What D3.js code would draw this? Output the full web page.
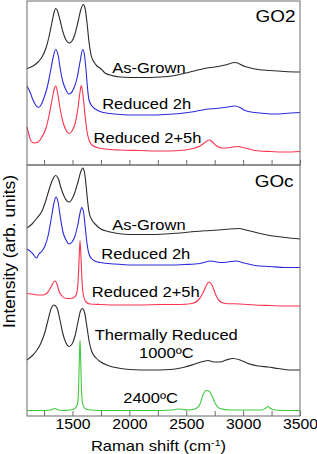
<!DOCTYPE html>
<html>
<head>
<meta charset="utf-8">
<script src="https://cdn.jsdelivr.net/npm/d3@7"></script>
<style>
  body { margin: 0; background: #fff; }
  text { font-family: "Liberation Sans", Arial, sans-serif; fill: #000; }
</style>
</head>
<body>
<div id="chart"></div>
<script>
// Raman spectra, [wavenumber (cm-1), intensity (arb. units)]
var go2AsGrown = [[1100,9.65],[1153,9.9],[1197,10.3],[1232,10.8],[1267,11.7],[1293,12.8],[1320,14.3],[1337,15.2],[1352,15.65],[1368,15.4],[1390,14.5],[1416,13.3],[1443,12.5],[1472,12.2],[1496,12.4],[1522,13.1],[1548,14.3],[1575,15.6],[1595,16.05],[1610,15.7],[1627,14.3],[1645,12.3],[1663,11.0],[1689,10.3],[1715,9.9],[1742,9.7],[1786,9.2],[1830,9.0],[1918,8.8],[2093,8.75],[2269,8.8],[2401,8.95],[2533,9.3],[2621,9.55],[2682,9.7],[2753,9.8],[2841,10.0],[2929,10.25],[3016,9.85],[3104,9.6],[3236,9.45],[3368,9.35],[3500,9.3]];
var go2Red2h = [[1100,7.9],[1126,7.3],[1153,6.5],[1179,5.95],[1201,5.75],[1223,6.0],[1249,6.7],[1276,7.7],[1302,9.1],[1329,10.7],[1352,11.55],[1373,11.0],[1394,9.5],[1416,8.3],[1443,7.5],[1465,7.1],[1487,7.2],[1513,7.7],[1540,8.7],[1566,10.3],[1590,11.55],[1605,11.0],[1619,9.5],[1632,7.7],[1645,6.5],[1671,5.9],[1707,5.55],[1742,5.35],[1830,5.15],[1918,5.05],[2049,5.0],[2181,5.0],[2313,5.05],[2445,5.15],[2577,5.35],[2665,5.55],[2753,5.65],[2841,5.75],[2929,5.9],[2973,5.75],[3016,5.45],[3104,5.25],[3192,5.15],[3280,5.1],[3368,5.15],[3500,5.25]];
var go2Red25h = [[1100,3.8],[1118,3.0],[1135,2.4],[1162,2.2],[1197,2.3],[1232,2.8],[1267,3.7],[1293,4.9],[1320,6.5],[1342,7.7],[1352,7.9],[1368,7.3],[1390,5.7],[1416,4.3],[1443,3.5],[1469,3.15],[1496,3.4],[1522,4.1],[1548,5.7],[1566,7.3],[1577,7.95],[1592,7.0],[1610,5.0],[1627,3.4],[1645,2.5],[1671,2.0],[1715,1.75],[1786,1.6],[1918,1.5],[2093,1.45],[2269,1.4],[2445,1.45],[2559,1.65],[2621,1.9],[2665,2.25],[2700,2.5],[2726,2.35],[2762,1.95],[2814,1.7],[2885,1.75],[2946,1.85],[3016,1.7],[3104,1.45],[3236,1.35],[3368,1.3],[3500,1.35]];

var gocAsGrown = [[1100,18.8],[1144,19.2],[1188,19.8],[1232,20.5],[1267,21.6],[1293,22.6],[1320,23.5],[1337,23.9],[1352,24.05],[1373,23.8],[1399,22.8],[1425,22.0],[1452,21.5],[1472,21.4],[1496,21.7],[1522,22.4],[1548,23.4],[1575,24.5],[1590,24.8],[1605,24.4],[1619,23.1],[1632,21.6],[1645,20.4],[1671,19.6],[1707,19.1],[1742,18.75],[1812,18.45],[1900,18.25],[2005,18.15],[2181,18.15],[2313,18.2],[2445,18.3],[2577,18.45],[2709,18.55],[2841,18.65],[2955,18.75],[3043,18.55],[3131,18.3],[3236,18.05],[3368,17.85],[3500,17.7]];
var gocRed2h = [[1100,16.7],[1126,16.5],[1153,16.2],[1184,15.8],[1205,16.2],[1232,16.5],[1258,17.0],[1285,18.0],[1311,19.6],[1337,21.3],[1355,21.9],[1373,21.4],[1394,19.8],[1416,18.4],[1443,17.6],[1469,17.2],[1496,17.4],[1522,18.0],[1548,19.2],[1570,20.5],[1581,20.85],[1597,20.4],[1610,19.1],[1627,17.3],[1645,16.2],[1671,15.7],[1707,15.45],[1742,15.35],[1874,15.2],[2005,15.1],[2181,15.1],[2357,15.1],[2489,15.15],[2621,15.25],[2718,15.5],[2797,15.35],[2867,15.4],[2937,15.5],[3008,15.3],[3104,15.05],[3236,14.95],[3368,14.85],[3500,14.85]];
var gocRed25h = [[1100,12.25],[1144,12.2],[1197,12.1],[1241,12.1],[1276,12.3],[1302,12.7],[1324,13.2],[1346,13.5],[1364,13.2],[1381,12.5],[1408,12.0],[1443,11.75],[1478,11.75],[1513,11.85],[1535,12.2],[1548,13.3],[1557,15.4],[1566,17.55],[1575,15.8],[1584,13.4],[1597,12.0],[1619,11.4],[1654,11.2],[1742,11.15],[1918,11.1],[2093,11.1],[2269,11.15],[2445,11.15],[2551,11.25],[2603,11.55],[2647,12.3],[2674,13.0],[2700,13.4],[2726,13.1],[2753,12.3],[2788,11.55],[2841,11.25],[2973,11.2],[3104,11.1],[3236,11.05],[3368,11.0],[3500,11.0]];
var gocThermal1000 = [[1100,5.6],[1144,6.0],[1188,6.6],[1223,7.3],[1258,8.4],[1285,9.6],[1311,10.7],[1337,11.1],[1364,10.8],[1390,9.6],[1416,8.2],[1443,7.3],[1469,6.95],[1496,7.2],[1522,8.0],[1548,9.4],[1570,10.5],[1586,10.75],[1605,10.4],[1627,8.9],[1649,7.3],[1671,6.4],[1707,5.8],[1742,5.45],[1812,5.05],[1900,4.8],[2005,4.65],[2181,4.6],[2357,4.65],[2489,4.9],[2577,5.2],[2647,5.45],[2691,5.55],[2744,5.4],[2797,5.4],[2850,5.6],[2911,5.75],[2973,5.6],[3043,5.25],[3131,5.0],[3219,4.9],[3307,4.75],[3412,4.6],[3500,4.6]];
var gocThermal2400 = [[1100,0.55],[1214,0.55],[1302,0.6],[1329,0.7],[1346,0.75],[1364,0.65],[1408,0.55],[1478,0.6],[1522,0.75],[1544,1.2],[1553,2.6],[1560,5.6],[1566,7.6],[1572,5.6],[1579,2.6],[1588,1.3],[1610,0.75],[1654,0.6],[1830,0.55],[2181,0.55],[2375,0.6],[2427,0.7],[2463,0.67],[2515,0.6],[2577,0.7],[2621,1.2],[2647,2.1],[2674,2.55],[2700,2.5],[2726,2.0],[2753,1.3],[2797,0.75],[2885,0.6],[3060,0.6],[3166,0.6],[3201,0.8],[3221,0.95],[3241,0.75],[3280,0.6],[3412,0.55],[3500,0.55]];

var xTicks = [1250, 1500, 1750, 2000, 2250, 2500, 2750, 3000, 3250, 3500];

var width = 317, height = 454;
var left = 27, right = 300;
var stretch = 1.18;   // the figure's lettering is wider than Arial

var color = {
    black: '#2b2b2b',
    blue: '#2b2bdd',
    red: '#ff3350',
    green: '#40c840',
    frame: '#6a6a6a'
};

var svg = d3.select("#chart").append("svg")
    .attr("width", width)
    .attr("height", height);

var x = d3.scaleLinear().domain([1100, 3500]).range([left, right]);

var panels = [
    {
        name: "GO2", top: 1, bottom: 165, ymax: 16.4,
        series: [
            { data: go2AsGrown, color: color.black },
            { data: go2Red2h, color: color.blue },
            { data: go2Red25h, color: color.red }
        ],
        labels: [
            { text: "As-Grown", x: 2172, y: 9.17 },
            { text: "Reduced 2h", x: 2152, y: 5.6 },
            { text: "Reduced 2+5h", x: 2159, y: 2.17 }
        ],
        tag: { x: 3460, y: 14.33 }
    },
    {
        name: "GOc", top: 165, bottom: 416, ymax: 25.1,
        series: [
            { data: gocAsGrown, color: color.black },
            { data: gocRed2h, color: color.blue },
            { data: gocRed25h, color: color.red },
            { data: gocThermal1000, color: color.black },
            { data: gocThermal2400, color: color.green }
        ],
        labels: [
            { text: "As-Grown", x: 2172, y: 18.6 },
            { text: "Reduced 2h", x: 2144, y: 15.7 },
            { text: "Reduced 2+5h", x: 2144, y: 11.87 },
            { text: "Thermally Reduced", x: 2324, y: 7.6 },
            { text: "1000ºC", x: 2325, y: 5.77 },
            { text: "2400ºC", x: 2186, y: 1.27 }
        ],
        tag: { x: 3443, y: 22.9 }
    }
];

function stretchedText(g, px, py, str, size, anchor) {
    return g.append("text")
        .attr("transform", "translate(" + px + "," + py + ") scale(" + stretch + ",1)")
        .attr("text-anchor", anchor)
        .style("font-size", size + "px")
        .text(str);
}

panels.forEach(function (p, i) {
    var y = d3.scaleLinear().domain([0, p.ymax]).range([p.bottom, p.top]);
    var line = d3.line()
        .x(function (d) { return x(d[0]); })
        .y(function (d) { return y(d[1]); })
        .curve(d3.curveMonotoneX);

    var g = svg.append("g").attr("class", "panel panel-" + p.name);

    g.selectAll(".spectrum")
        .data(p.series)
        .enter().append("path")
        .attr("class", "spectrum")
        .attr("d", function (d) { return line(d.data); })
        .attr("fill", "none")
        .attr("stroke", function (d) { return d.color; })
        .attr("stroke-width", 1.1);

    var isLast = i === panels.length - 1;
    var axis = d3.axisBottom(x)
        .tickValues(xTicks)
        .tickSize(-5)
        .tickSizeOuter(0)
        .tickPadding(3)
        .tickFormat(function (d) { return (isLast && d % 500 === 0) ? d : ""; });

    var ax = g.append("g")
        .attr("class", "x axis")
        .attr("transform", "translate(0," + p.bottom + ")")
        .call(axis);
    ax.select(".domain").remove();
    ax.selectAll(".tick line").attr("stroke", color.frame);
    ax.selectAll(".tick text")
        .attr("transform", "scale(1.13,1)")
        .style("font-size", "14px");

    g.append("rect")
        .attr("x", left)
        .attr("y", p.top)
        .attr("width", right - left)
        .attr("height", p.bottom - p.top)
        .attr("fill", "none")
        .attr("stroke", color.frame)
        .attr("stroke-width", 1);

    p.labels.forEach(function (l) {
        stretchedText(g, x(l.x), y(l.y), l.text, 14, "middle");
    });
    stretchedText(g, x(p.tag.x), y(p.tag.y), p.name, 16, "end");
});

// axis titles
var xt = svg.append("text")
    .attr("transform", "translate(158.5,451) scale(" + stretch + ",1)")
    .attr("text-anchor", "middle")
    .style("font-size", "14px");
xt.append("tspan").text("Raman shift (cm");
xt.append("tspan").attr("dy", -5).style("font-size", "9px").text("-1");
xt.append("tspan").attr("dy", 5).text(")");

svg.append("text")
    .attr("transform", "translate(15,251.5) rotate(-90) scale(1.09,1)")
    .attr("text-anchor", "middle")
    .style("font-size", "16px")
    .text("Intensity (arb. units)");
</script>
</body>
</html>
